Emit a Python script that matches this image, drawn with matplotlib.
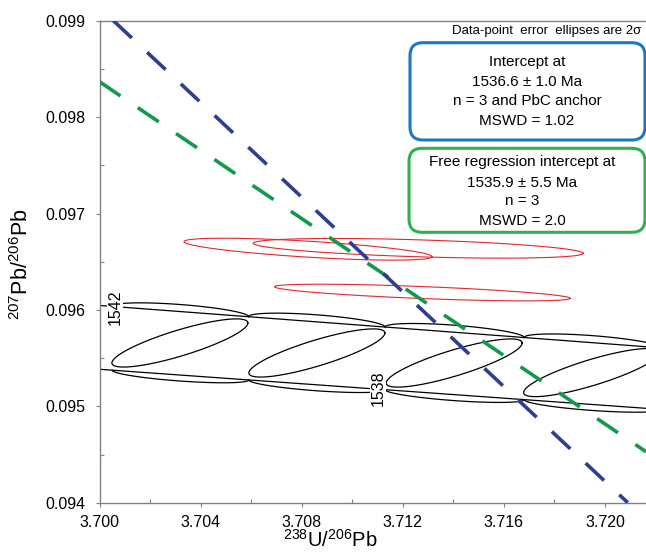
import numpy as np
import matplotlib
matplotlib.use("Agg")
import matplotlib.pyplot as plt
from matplotlib.patches import FancyBboxPatch
from matplotlib.ticker import MultipleLocator, FormatStrFormatter

plt.rcParams["font.family"] = ["Liberation Sans", "DejaVu Sans"]
plt.rcParams["mathtext.fontset"] = "custom"
plt.rcParams["mathtext.rm"] = "Liberation Sans"

# concordia age ellipses (decay-constant errors), centres
conc_x = [3.70318, 3.70860, 3.71403, 3.71947]
conc_y = [0.095657, 0.095553, 0.095449, 0.095350]
conc_half_w = 0.00269
conc_tilt = 0.000207
conc_half_h = 0.00014

# concordia band envelopes and their segment nodes
band_x = [3.700, 3.72162]
band_upper = [0.096046, 0.095618]
band_lower = [0.095384, 0.094979]
band_nodes = [3.7005, 3.7059, 3.7113, 3.7168, 3.7222]
upper_bulge = 0.000073
lower_bulge = 0.000062

age_labels = ["1542", "1538"]
age_label_x = [3.70061, 3.71101]
age_label_y = [0.096030, 0.095190]

# data-point 2 sigma ellipses
data_x = [3.70825, 3.71261, 3.71277]
data_y = [0.096630, 0.096639, 0.096180]
data_half_w = [0.004906, 0.006528, 0.005847]
data_tilt = [-0.0000778, -0.0000519, -0.0000602]
data_half_h = [0.000083, 0.000088, 0.0000622]

# regression lines
anchored_x = [3.70055, 3.72090]
anchored_y = [0.099, 0.094]
free_x = [3.700, 3.72162]
free_y = [0.098367, 0.094529]

box1_lines = ["Intercept at", "1536.6 \u00b1 1.0 Ma", "n = 3 and PbC anchor", "MSWD = 1.02"]
box2_lines = ["Free regression intercept at", "1535.9 \u00b1 5.5 Ma", "n = 3", "MSWD = 2.0"]


def sheared_ellipse(cx, cy, a, tilt, h, n=300):
    t = np.linspace(0, 2 * np.pi, n)
    return cx + a * np.cos(t), cy + tilt * np.cos(t) + h * np.sin(t)


def band_line(xs, ys, x):
    return ys[0] + (ys[1] - ys[0]) * (x - xs[0]) / (xs[1] - xs[0])


fig = plt.figure(figsize=(6.46, 5.52), dpi=100)
ax = fig.add_axes([99.5 / 646, 49.3 / 552, 546.5 / 646, 482 / 552])
ax.set_xlim(3.700, 3.72162)
ax.set_ylim(0.094, 0.099)

# concordia band
xx = np.linspace(band_x[0], band_x[1], 50)
ax.plot(xx, band_line(band_x, band_upper, xx), color="black", lw=0.9)
ax.plot(xx, band_line(band_x, band_lower, xx), color="black", lw=0.9)
for n0, n1 in zip(band_nodes[:-1], band_nodes[1:]):
    t = np.linspace(0, np.pi, 100)
    xa = (n0 + n1) / 2 - (n1 - n0) / 2 * np.cos(t)
    ax.plot(xa, band_line(band_x, band_upper, xa) + upper_bulge * np.sin(t), color="black", lw=0.9)
    ax.plot(xa, band_line(band_x, band_lower, xa) - lower_bulge * np.sin(t), color="black", lw=0.9)
for cx, cy in zip(conc_x, conc_y):
    ex, ey = sheared_ellipse(cx, cy, conc_half_w, conc_tilt, conc_half_h)
    ax.plot(ex, ey, color="black", lw=0.9)

for lab, lx, ly in zip(age_labels, age_label_x, age_label_y):
    ax.text(lx, ly, lab, rotation=90, ha="center", va="center", fontsize=11.5,
            bbox=dict(facecolor="white", edgecolor="none", pad=0.5), zorder=3)

# data ellipses
for cx, cy, a, tl, h in zip(data_x, data_y, data_half_w, data_tilt, data_half_h):
    ex, ey = sheared_ellipse(cx, cy, a, tl, h)
    ax.plot(ex, ey, color="#e5262c", lw=0.8, zorder=4)

ax.plot(free_x, free_y, color="#12994a", lw=2.6, linestyle=(0, (7.0, 5.8)), zorder=5)
ax.plot(anchored_x, anchored_y, color="#2c3f93", lw=2.6, linestyle=(0, (7.0, 5.8)), zorder=5)

# axes styling
for side in ["left", "bottom", "top"]:
    ax.spines[side].set_color("#808080")
    ax.spines[side].set_linewidth(1.0)
ax.spines["right"].set_visible(False)
ax.xaxis.set_major_locator(MultipleLocator(0.004))
ax.xaxis.set_minor_locator(MultipleLocator(0.002))
ax.yaxis.set_major_locator(MultipleLocator(0.001))
ax.yaxis.set_minor_locator(MultipleLocator(0.0005))
ax.xaxis.set_major_formatter(FormatStrFormatter("%.3f"))
ax.yaxis.set_major_formatter(FormatStrFormatter("%.3f"))
ax.tick_params(which="major", direction="out", length=3, width=0.8, color="#808080",
               labelsize=11.5, pad=5.5)
ax.tick_params(axis="y", which="major", pad=7)
ax.tick_params(which="minor", direction="in", length=3, width=0.8, color="#808080")
ax.tick_params(top=False, right=False, which="both")

fig.text(22 / 646, 1 - 264 / 552, r"$^{\mathrm{207}}$Pb/$^{\mathrm{206}}$Pb", rotation=90,
         ha="center", va="center", fontsize=15.5)
fig.text(330 / 646, 1 - 550.5 / 552, r"$^{\mathrm{238}}$U/$^{\mathrm{206}}$Pb",
         ha="center", va="bottom", fontsize=14.5)

fig.text(641.5 / 646, 1 - 30.7 / 552, "Data-point  error  ellipses are 2\u03c3",
         ha="right", va="center", fontsize=9.5)

box1 = FancyBboxPatch((4.10, 4.12), 2.35, 0.973, boxstyle="round,pad=0,rounding_size=0.13",
                      transform=fig.dpi_scale_trans, facecolor="white",
                      edgecolor="#1f77c4", linewidth=2.2, zorder=6)
box2 = FancyBboxPatch((4.09, 3.197), 2.36, 0.84, boxstyle="round,pad=0,rounding_size=0.13",
                      transform=fig.dpi_scale_trans, facecolor="white",
                      edgecolor="#2db34a", linewidth=2.2, zorder=6)
fig.patches.extend([box1, box2])

for line, y in zip(box1_lines, [61.7, 81.7, 101.0, 120.7]):
    fig.text(527 / 646, 1 - y / 552, line, ha="center", va="center", fontsize=11, zorder=7)
for line, y in zip(box2_lines, [162.3, 182.7, 201.0, 221.0]):
    fig.text(522 / 646, 1 - y / 552, line, ha="center", va="center", fontsize=11, zorder=7)

plt.savefig("out.png", dpi=100)
plt.close()
